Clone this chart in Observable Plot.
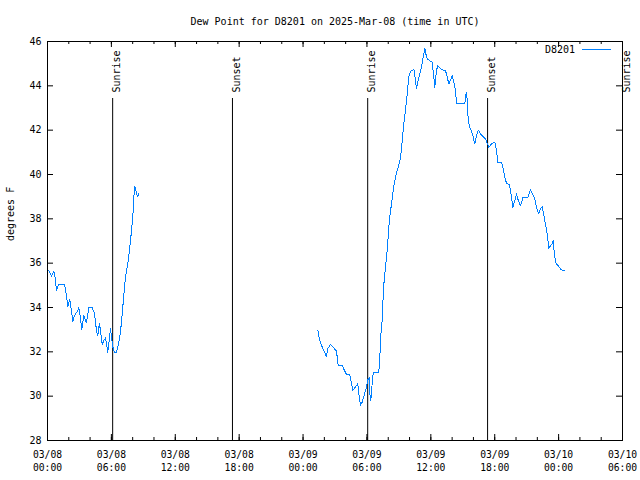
<!DOCTYPE html>
<html><head><meta charset="utf-8">
<script src="https://cdn.jsdelivr.net/npm/d3@7"></script>
<script src="https://cdn.jsdelivr.net/npm/@observablehq/plot@0.6"></script>
<style>body{margin:0;background:#fff;overflow:hidden} svg{display:block;overflow:visible}</style>
</head><body><div id="chart"></div>
<script>
const title = "Dew Point for D8201 on 2025-Mar-08 (time in UTC)";
const yLabel = "degrees F";
const seriesName = "D8201";
const startUTC = Date.UTC(2025, 2, 8, 0, 0);

// hours since 03/08 00:00 UTC
const seg1Hours = [0.12,0.38,0.59,0.69,0.85,0.97,1.06,1.60,1.78,1.91,2.09,2.25,2.38,2.54,2.85,2.94,3.10,3.22,3.41,3.66,3.88,4.20,4.41,4.60,4.72,4.88,5.14,5.29,5.45,5.66,5.92,6.01,6.17,6.29,6.45,6.60,6.79,6.95,7.11,7.26,7.42,7.58,7.70,7.89,8.01,8.10,8.20,8.33,8.45,8.57];
const seg1Values = [35.67,35.4,35.63,35.44,34.77,34.95,35.04,35.04,34.54,34.04,34.35,33.86,33.37,33.64,33.86,33.99,33.52,33.0,33.62,33.32,33.99,33.99,33.74,32.96,32.74,33.29,32.33,32.51,32.63,31.98,33.04,32.63,32.14,31.96,31.98,32.21,32.66,33.34,34.24,35.07,35.67,36.12,36.57,37.47,38.07,38.97,39.46,39.2,39.0,39.13];

const seg2Hours = [25.39,25.55,25.73,25.95,26.20,26.32,26.58,26.83,27.14,27.30,27.68,27.92,28.08,28.39,28.55,28.67,28.86,29.02,29.14,29.24,29.39,29.55,29.77,29.96,30.08,30.21,30.27,30.36,30.46,30.59,31.11,31.21,31.30,31.43,31.56,31.68,31.81,31.93,32.05,32.18,32.31,32.43,32.56,32.68,32.80,32.94,33.06,33.18,33.31,33.46,33.62,33.78,33.93,34.09,34.25,34.40,34.56,34.65,34.81,34.96,35.12,35.25,35.38,35.43,35.53,35.66,35.87,36.13,36.28,36.37,36.53,36.65,36.84,37.07,37.38,37.54,37.69,37.85,38.01,38.16,38.32,38.41,38.79,39.19,39.32,39.42,39.51,39.66,39.79,39.94,40.13,40.29,40.45,40.66,40.97,41.14,41.44,41.70,42.01,42.17,42.29,42.64,42.80,42.95,43.11,43.39,43.55,43.70,43.89,44.05,44.21,44.42,44.67,45.14,45.36,45.52,45.76,45.92,46.14,46.30,46.46,46.70,46.93,47.08,47.24,47.40,47.49,47.61,47.77,48.02,48.24,48.58];
const seg2Values = [32.99,32.54,32.29,32.06,31.79,32.14,32.33,32.21,32.03,31.38,31.38,31.13,30.98,30.98,30.56,30.26,30.38,30.48,30.58,30.10,29.58,29.73,30.10,30.40,30.74,30.83,30.13,29.80,30.40,31.08,31.08,31.76,32.74,33.41,34.91,35.52,36.12,36.72,37.62,38.23,38.68,39.13,39.58,39.88,40.10,40.33,40.55,40.86,41.53,42.28,42.89,43.64,44.39,44.66,44.69,44.76,44.27,43.86,44.24,44.54,44.84,45.22,45.51,45.70,45.44,45.22,45.14,45.06,44.39,43.94,44.69,44.91,44.81,44.72,44.69,44.39,44.09,44.27,44.46,44.16,43.79,43.21,43.21,43.21,43.71,43.37,42.43,42.13,41.98,41.76,41.38,41.76,42.01,41.83,41.68,41.60,41.23,41.38,41.46,41.08,40.55,40.55,40.25,39.88,39.60,39.55,39.05,38.52,38.83,39.13,38.83,38.60,38.98,38.98,39.31,39.16,38.90,38.52,38.22,38.45,38.55,37.92,37.32,36.65,36.80,36.87,37.02,36.35,35.97,35.85,35.70,35.67];

const sunHours = [6.12, 17.37, 30.07, 41.33, 54.0];
const sunLabels = ["Sunrise", "Sunset", "Sunrise", "Sunset", "Sunrise"];

const xTickHours = [0, 6, 12, 18, 24, 30, 36, 42, 48, 54];
const xMinorHours = [0,2,4,6,8,10,12,14,16,18,20,22,24,26,28,30,32,34,36,38,40,42,44,46,48,50,52,54];
const yTicks = [28, 30, 32, 34, 36, 38, 40, 42, 44, 46];

const toDate = h => new Date(startUTC + h * 3600e3);
const rows = [
  ...seg1Hours.map((h, i) => ({t: toDate(h), v: seg1Values[i], seg: 1})),
  ...seg2Hours.map((h, i) => ({t: toDate(h), v: seg2Values[i], seg: 2}))
];
const sunRows = sunHours.map((h, i) => ({t: toDate(h), label: sunLabels[i]}));

const W = 640, H = 480, mL = 47, mR = 18, mT = 41, mB = 40;
const fw = W - mL - mR, fh = H - mT - mB;
const lineColor = "#0080ff";

const plot = Plot.plot({
  width: W, height: H,
  marginLeft: mL, marginRight: mR, marginTop: mT, marginBottom: mB,
  style: {fontFamily: "DejaVu Sans Mono", fontSize: "10px", background: "#fff", color: "#000", overflow: "visible"},
  x: {type: "utc", domain: [toDate(0), toDate(54)]},
  y: {domain: [28, 46]},
  marks: [
    Plot.ruleX(sunRows, {x: "t", stroke: "#000", insetTop: 57}),
    Plot.text(sunRows, {x: "t", text: "label", frameAnchor: "top", rotate: -90, textAnchor: "start", dy: 51, fill: "#000"}),
    Plot.line(rows, {x: "t", y: "v", z: "seg", stroke: lineColor, strokeWidth: 1, shapeRendering: "crispEdges"}),
    Plot.frame({stroke: "#000"}),
    Plot.tickX(xTickHours.map(toDate), {x: d => d, insetTop: fh - 6, stroke: "#000"}),
    Plot.tickX(xTickHours.map(toDate), {x: d => d, insetBottom: fh - 6, stroke: "#000"}),
    Plot.tickX(xMinorHours.map(toDate), {x: d => d, insetTop: fh - 3, stroke: "#000"}),
    Plot.tickX(xMinorHours.map(toDate), {x: d => d, insetBottom: fh - 3, stroke: "#000"}),
    Plot.tickY(yTicks, {y: d => d, insetRight: fw - 6, stroke: "#000"}),
    Plot.tickY(yTicks, {y: d => d, insetLeft: fw - 6, stroke: "#000"}),
    Plot.axisX({ticks: xTickHours.map(toDate), tickFormat: d3.utcFormat("%m/%d\n%H:%M"), tickSize: 0, tickPadding: 9, lineHeight: 1.3, fontSize: 9.7, label: null}),
    Plot.axisY({ticks: yTicks, tickSize: 0, tickPadding: 6, label: null}),
    Plot.text([yLabel], {text: d => d, frameAnchor: "left", dx: -37, rotate: -90, fill: "#000"}),
    Plot.text([title], {text: d => d, frameAnchor: "top", dy: -24, fill: "#000"})
  ]
});

const svg = d3.select(plot);
svg.append("text")
  .attr("x", W - mR - 47).attr("y", mT + 9)
  .attr("text-anchor", "end").attr("dy", "0.32em")
  .attr("fill", "#000").text(seriesName);
svg.append("line")
  .attr("x1", W - mR - 40).attr("x2", W - mR - 11)
  .attr("y1", mT + 8.5).attr("y2", mT + 8.5)
  .attr("stroke", lineColor).attr("stroke-width", 1);

document.getElementById("chart").appendChild(plot);
</script>
</body></html>
